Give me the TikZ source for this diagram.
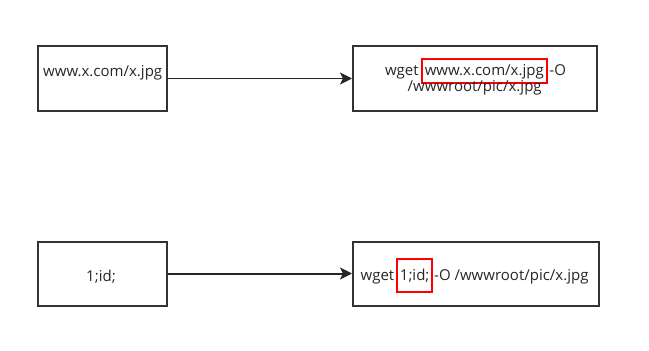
\documentclass[tikz,border=0pt]{standalone}
\usepackage{fontspec}
\setmainfont{Open Sans}
\usetikzlibrary{arrows.meta}
\begin{document}
\begin{tikzpicture}[x=1pt,y=-1pt,
  box/.style={draw=black!80,line width=2pt,inner sep=0pt},
  txt/.style={font=\fontsize{15}{15}\selectfont,text=black!85,inner sep=0pt},
  redmark/.style={txt,draw=red,line width=2pt,inner xsep=3pt,inner ysep=0pt},
  link/.style={-{Stealth[length=12pt,width=12pt,inset=3pt]},line width=1.3pt,draw=black!85}]
  \useasboundingbox (0,0) rectangle (649,351);
  % source values
  \node[box,minimum width=129pt,minimum height=65pt] (src1) at (102,78.5) {};
  \node[txt,anchor=base] (src1t) at (102.7,76.7) {www.x.com/x.jpg};
  \node[box,minimum width=129pt,minimum height=64pt] (src2) at (102,273.5) {};
  \node[txt,anchor=base] (src2t) at (101,281.7) {1;id;};
  % resulting commands
  \node[box,minimum width=244pt,minimum height=65pt] (cmd1) at (475,78.5) {};
  \node[box,minimum width=246pt,minimum height=64pt] (cmd2) at (476,273.5) {};
  % first command, with the inserted URL framed
  \node[redmark,minimum height=24pt,text height=12pt,text depth=4pt] (url) at (484.3,71.3) {www.x.com/x.jpg};
  \node[txt,anchor=base east] (w1) at ([xshift=-2pt]url.base west) {wget};
  \node[txt,anchor=base west] (o1) at ([xshift=1.5pt]url.base east) {-O};
  \node[txt,anchor=base] (p1) at (474.7,91.7) {/wwwroot/pic/x.jpg};
  % second command, with the inserted value framed
  \node[redmark,minimum height=33pt,text height=14pt,text depth=4pt,inner xsep=2.5pt] (val) at (414.7,275.7) {1;id;};
  \node[txt,anchor=base east] (w2) at ([xshift=-2pt]val.base west) {wget};
  \node[txt,anchor=base west] (o2) at ([xshift=1pt]val.base east) {-O /wwwroot/pic/x.jpg};
  % connectors
  \draw[link] (src1) -- (cmd1);
  \draw[link,line width=2pt] (src2) -- (cmd2);
\end{tikzpicture}
\end{document}
